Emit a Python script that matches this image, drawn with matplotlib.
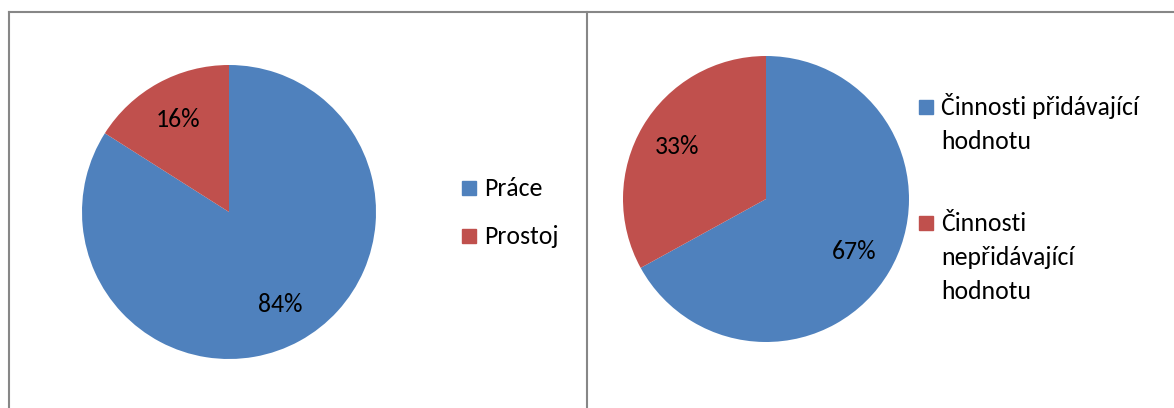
import matplotlib
matplotlib.use('Agg')
from matplotlib import pyplot as plt
from matplotlib.lines import Line2D
from matplotlib.patches import Rectangle

plt.rcParams['font.family'] = ['Carlito', 'Lato', 'Open Sans', 'DejaVu Sans']

# data
left_labels = ['Práce', 'Prostoj']
left_values = [84, 16]
right_labels = ['Činnosti přidávající\nhodnotu', 'Činnosti\nnepřidávající\nhodnotu']
right_values = [67, 33]
colors = ['#4F81BD', '#C0504D']

W, H = 1174, 408
FS = 18.5
fig = plt.figure(figsize=(W / 100, H / 100), dpi=100)
fig.patch.set_facecolor('white')


def px_box(cx, cy, r):
    # pixel centre/radius -> figure fraction rect
    return [(cx - r) / W, 1 - (cy + r) / H, 2 * r / W, 2 * r / H]


def draw_pie(cx, cy, r, values):
    ax = fig.add_axes(px_box(cx, cy, r))
    ax.pie(values, colors=colors, startangle=90, counterclock=False,
           autopct='%1.0f%%', pctdistance=0.72, radius=1,
           wedgeprops={'linewidth': 0},
           textprops={'fontsize': FS, 'color': 'black'})
    ax.set_xlim(-1, 1)
    ax.set_ylim(-1, 1)
    ax.set_aspect('equal')
    ax.axis('off')
    return ax


def draw_legend(x, ys, labels, step=34):
    # x, ys in pixels: square left edge, square centre of each entry
    for y, lab, col in zip(ys, labels, colors):
        fig.patches.append(Rectangle((x / W, 1 - (y + 7) / H), 14 / W, 14 / H,
                                     transform=fig.transFigure, color=col))
        for i, line in enumerate(lab.split('\n')):
            fig.text((x + 22) / W, 1 - (y + 8 + i * step) / H, line,
                     fontsize=FS, va='baseline', ha='left')


draw_pie(229, 212, 147, left_values)
draw_pie(766, 199, 143, right_values)

draw_legend(462, [188, 236], left_labels)
draw_legend(919, [107, 223], right_labels)

# panel borders
border = '#878787'
fig.add_artist(Line2D([8.5 / W, 1], [1 - 11.5 / H] * 2, transform=fig.transFigure,
                      color=border, lw=1.5))
fig.add_artist(Line2D([8.5 / W] * 2, [0, 1 - 11.5 / H], transform=fig.transFigure,
                      color=border, lw=1.5))
fig.add_artist(Line2D([587 / W] * 2, [0, 1 - 11.5 / H], transform=fig.transFigure,
                      color=border, lw=1.5))

fig.savefig('out.png', dpi=100)
